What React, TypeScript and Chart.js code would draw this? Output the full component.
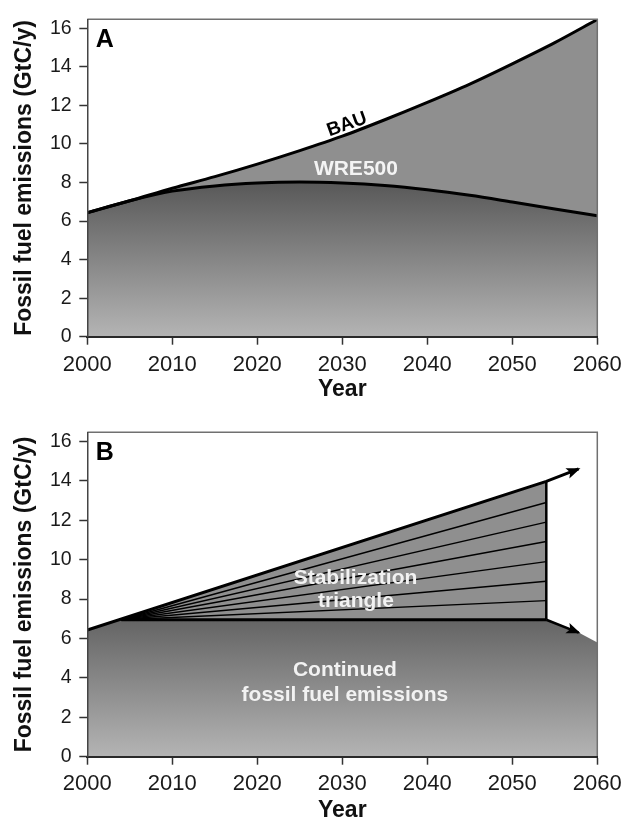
import React, { useEffect, useRef } from 'react';
import { Chart, registerables } from 'chart.js';

Chart.register(...registerables);

// ---------- Panel A data ----------
const yearsA = [2000, 2005, 2010, 2015, 2020, 2025, 2030, 2035, 2040, 2045, 2050, 2055, 2060];
const bauValues = [6.43, 7.05, 7.7, 8.3, 8.95, 9.65, 10.4, 11.25, 12.15, 13.1, 14.15, 15.25, 16.45];
const wre500Values = [6.43, 7.05, 7.55, 7.82, 7.97, 8.02, 7.97, 7.84, 7.62, 7.33, 6.98, 6.62, 6.27];

// ---------- Panel B data ----------
const baseYears = [2000, 2004, 2054, 2057.8, 2060];
const baseValues = [6.43, 6.95, 6.95, 6.3, 5.8];
const upperYears = [2000, 2054, 2057.8];
const upperValues = [6.43, 13.97, 14.6];
const triangleYears = [2004, 2054];
const flatValues = [6.95, 6.95];
const triangleTopValues = [6.95, 13.97];
const wedgeEndValues = [7.92, 8.9, 9.9, 10.92, 11.9, 12.9];
const verticalYears = [2054, 2054];
const verticalValues = [6.95, 13.97];
const arrowDownYears = [2054, 2057.8];
const arrowDownValues = [6.95, 6.3];

// ---------- Axes ----------
const xTickValues = [2000, 2010, 2020, 2030, 2040, 2050, 2060];
const xTickLabels = ['2000', '2010', '2020', '2030', '2040', '2050', '2060'];
const yTickValues = [0, 2, 4, 6, 8, 10, 12, 14, 16];
const yTickLabels = ['0', '2', '4', '6', '8', '10', '12', '14', '16'];
const X_MIN = 2000;
const X_MAX = 2060;
const Y_MIN = 0;
const Y_MAX = 16.46;

const FONT = "'Liberation Sans', Arial, Helvetica, sans-serif";

const pts = (xs: number[], ys: number[]) => xs.map((x, i) => ({ x, y: ys[i] }));

type Label = {
  text: string;
  x: number;
  y: number;
  color: string;
  size: number;
  align?: CanvasTextAlign;
  rotation?: number;
};

const labelsA: Label[] = [
  { text: 'A', x: 2001.0, y: 15.37, color: '#000', size: 25, align: 'left' },
  { text: 'BAU', x: 2030.55, y: 11.0, color: '#000', size: 19, rotation: -20 },
  { text: 'WRE500', x: 2031.6, y: 8.67, color: '#f4f4f4', size: 21 },
];

const labelsB: Label[] = [
  { text: 'B', x: 2001.0, y: 15.41, color: '#000', size: 25, align: 'left' },
  { text: 'Stabilization', x: 2031.55, y: 9.06, color: '#f2f2f2', size: 21 },
  { text: 'triangle', x: 2031.6, y: 7.87, color: '#f2f2f2', size: 21 },
  { text: 'Continued', x: 2030.3, y: 4.37, color: '#f2f2f2', size: 21 },
  { text: 'fossil fuel emissions', x: 2030.3, y: 3.13, color: '#f2f2f2', size: 21 },
];

function makeLabelPlugin(labels: Label[]) {
  return {
    id: 'textLabels',
    afterDatasetsDraw(chart: any) {
      const { ctx, scales } = chart;
      labels.forEach((l) => {
        const px = scales.x.getPixelForValue(l.x);
        const py = scales.y.getPixelForValue(l.y);
        ctx.save();
        ctx.translate(px, py);
        if (l.rotation) ctx.rotate((l.rotation * Math.PI) / 180);
        ctx.font = `bold ${l.size}px ${FONT}`;
        ctx.fillStyle = l.color;
        ctx.textAlign = l.align || 'center';
        ctx.textBaseline = 'middle';
        ctx.fillText(l.text, 0, 0);
        ctx.restore();
      });
    },
  };
}

const frameAndArrowPlugin = {
  id: 'frameAndArrows',
  afterDatasetsDraw(chart: any) {
    const { ctx, chartArea } = chart;
    chart.data.datasets.forEach((ds: any, i: number) => {
      if (!ds.arrowHead) return;
      const p = chart.getDatasetMeta(i).data;
      const a = p[p.length - 2];
      const b = p[p.length - 1];
      const ang = Math.atan2(b.y - a.y, b.x - a.x);
      ctx.save();
      ctx.translate(b.x, b.y);
      ctx.rotate(ang);
      ctx.fillStyle = '#000';
      ctx.beginPath();
      ctx.moveTo(2, 0);
      ctx.lineTo(-12, -5.5);
      ctx.lineTo(-9, 0);
      ctx.lineTo(-12, 5.5);
      ctx.closePath();
      ctx.fill();
      ctx.restore();
    });
    ctx.save();
    ctx.strokeStyle = '#707070';
    ctx.lineWidth = 1.5;
    ctx.beginPath();
    ctx.moveTo(chartArea.left, chartArea.top);
    ctx.lineTo(chartArea.right, chartArea.top);
    ctx.lineTo(chartArea.right, chartArea.bottom);
    ctx.stroke();
    ctx.restore();
  },
};

function gradientFill(chart: any) {
  const { ctx, chartArea, scales } = chart;
  if (!chartArea) return '#888';
  const g = ctx.createLinearGradient(0, scales.y.getPixelForValue(8), 0, scales.y.getPixelForValue(0));
  g.addColorStop(0, '#585858');
  g.addColorStop(1, '#b4b4b4');
  return g;
}

function makeScales(axisH: number, tickPad: number, titlePad: number) {
  return {
    x: {
      type: 'linear',
      min: X_MIN,
      max: X_MAX,
      afterBuildTicks: (s: any) => {
        s.ticks = xTickValues.map((v) => ({ value: v }));
      },
      afterFit: (s: any) => {
        s.height = axisH;
      },
      ticks: {
        autoSkip: false,
        maxRotation: 0,
        padding: tickPad,
        color: '#1a1a1a',
        font: { family: FONT, size: 22 },
        callback: (v: number) => xTickLabels[xTickValues.indexOf(v)] ?? String(v),
      },
      grid: { drawOnChartArea: false, drawTicks: true, tickLength: 8, tickColor: '#333', tickWidth: 1.5 },
      border: { display: true, color: '#2a2a2a', width: 2, z: 1 },
      title: {
        display: true,
        text: 'Year',
        color: '#111',
        font: { family: FONT, size: 23, weight: 'bold' },
        padding: { top: 0, bottom: titlePad },
      },
    },
    y: {
      type: 'linear',
      min: Y_MIN,
      max: Y_MAX,
      afterBuildTicks: (s: any) => {
        s.ticks = yTickValues.map((v) => ({ value: v }));
      },
      afterFit: (s: any) => {
        s.width = 87.3;
      },
      ticks: {
        autoSkip: false,
        padding: 7.6,
        color: '#1a1a1a',
        font: { family: FONT, size: 19.5 },
        callback: (v: number) => yTickLabels[yTickValues.indexOf(v)] ?? String(v),
      },
      grid: { drawOnChartArea: false, drawTicks: true, tickLength: 8, tickColor: '#333', tickWidth: 1.5 },
      border: { display: true, color: '#444', width: 1.5, z: 1 },
      title: {
        display: true,
        text: 'Fossil fuel emissions (GtC/y)',
        color: '#111',
        font: { family: FONT, size: 23, weight: 'bold' },
        padding: { top: 11.2, bottom: 0 },
      },
    },
  };
}

const baseOptions = (padTop: number, axisH: number, tickPad: number, titlePad: number) => ({
  responsive: true,
  maintainAspectRatio: false,
  animation: false,
  events: [],
  layout: { padding: { top: padTop, right: 31.7, left: 0, bottom: 0 } },
  elements: { point: { radius: 0, hoverRadius: 0 } },
  plugins: { legend: { display: false }, tooltip: { enabled: false } },
  scales: makeScales(axisH, tickPad, titlePad),
});

function configA(): any {
  const curve = { tension: 0.4, cubicInterpolationMode: 'monotone' };
  return {
    type: 'line',
    data: {
      datasets: [
        { ...curve, data: pts(yearsA, wre500Values), borderWidth: 0, fill: 'origin', backgroundColor: (c: any) => gradientFill(c.chart), order: 3 },
        { ...curve, data: pts(yearsA, bauValues), borderWidth: 0, fill: 0, backgroundColor: '#8f8f8f', order: 3 },
        { ...curve, data: pts(yearsA, wre500Values), borderColor: '#000', borderWidth: 3, fill: false, order: 1 },
        { ...curve, data: pts(yearsA, bauValues), borderColor: '#000', borderWidth: 3, fill: false, order: 1 },
      ],
    },
    options: baseOptions(12.7, 68.3, 6.6, 1.1),
    plugins: [frameAndArrowPlugin, makeLabelPlugin(labelsA)],
  };
}

function configB(): any {
  const line = (xs: number[], ys: number[], w: number, extra: any = {}) => ({
    data: pts(xs, ys),
    borderColor: '#000',
    borderWidth: w,
    fill: false,
    tension: 0,
    order: 1,
    ...extra,
  });
  return {
    type: 'line',
    data: {
      datasets: [
        { data: pts(baseYears, baseValues), borderWidth: 0, tension: 0, fill: 'origin', backgroundColor: (c: any) => gradientFill(c.chart), order: 5 },
        line(triangleYears, flatValues, 3),
        { data: pts(triangleYears, triangleTopValues), borderWidth: 0, tension: 0, fill: 1, backgroundColor: '#8f8f8f', order: 4 },
        ...wedgeEndValues.map((v) => line(triangleYears, [flatValues[0], v], 1.4)),
        line(verticalYears, verticalValues, 2.5),
        line(upperYears, upperValues, 3, { arrowHead: true }),
        line(arrowDownYears, arrowDownValues, 2.5, { arrowHead: true }),
      ],
    },
    options: baseOptions(27.3, 73.3, 5.7, 5.3),
    plugins: [frameAndArrowPlugin, makeLabelPlugin(labelsB)],
  };
}

function Panel({ top, height, build }: { top: number; height: number; build: () => any }) {
  const ref = useRef<HTMLCanvasElement | null>(null);
  useEffect(() => {
    if (!ref.current) return;
    const chart = new Chart(ref.current, build());
    return () => chart.destroy();
  }, []);
  return (
    <div style={{ position: 'absolute', left: 0, top, width: 629, height }}>
      <canvas ref={ref} />
    </div>
  );
}

export default function App() {
  return (
    <div style={{ position: 'fixed', left: 0, top: 0, width: 629, height: 830, background: '#fff', overflow: 'visible' }}>
      <Panel top={0} height={405} build={configA} />
      <Panel top={405} height={425} build={configB} />
    </div>
  );
}
